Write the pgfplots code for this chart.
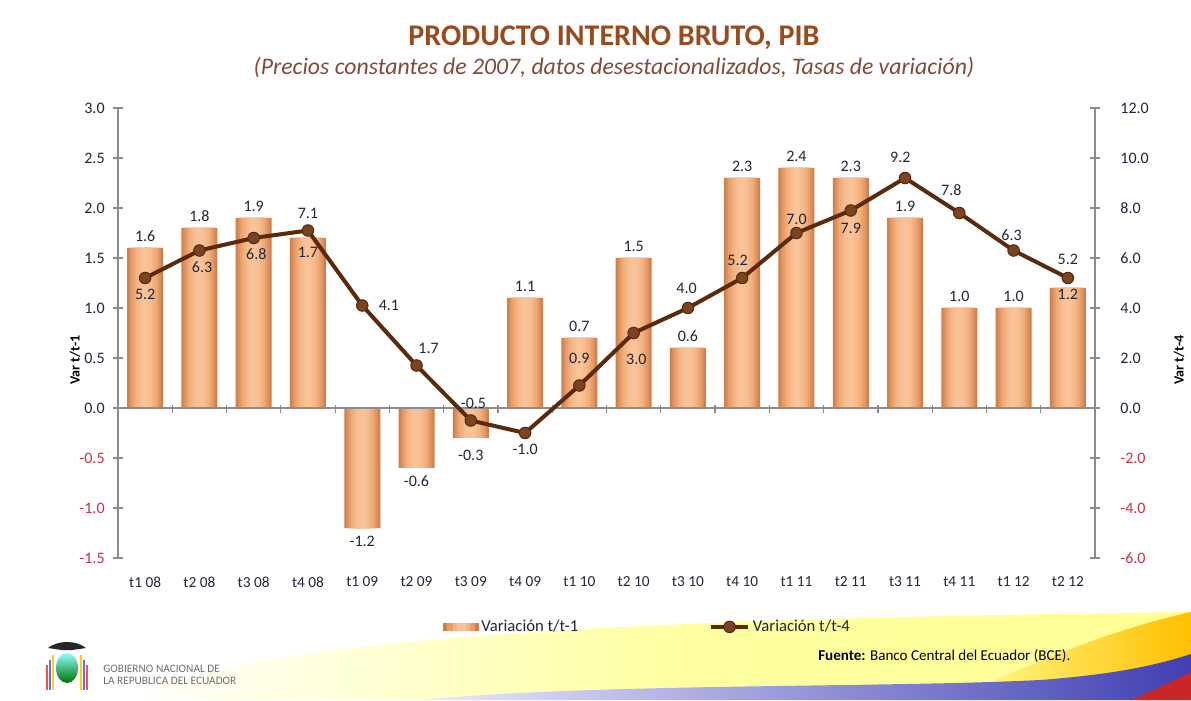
\documentclass[border=0pt]{standalone}
\usepackage{pgfplots}
\pgfplotsset{compat=1.18}
\usepackage{pgfplotstable}
\usepackage{fontspec}
\setmainfont{Carlito}
\definecolor{titlec}{HTML}{9A4A1C}
\definecolor{subc}{HTML}{85493A}
\definecolor{axisgray}{HTML}{8C8C8C}
\definecolor{negred}{HTML}{C8324B}
\definecolor{labc}{HTML}{22263A}
\definecolor{linec}{HTML}{5A2A0A}
\definecolor{markc}{HTML}{7B4420}
\definecolor{govgray}{HTML}{6E6E6E}
\definecolor{bA}{HTML}{D17F4B}
\definecolor{bB}{HTML}{DD8F5B}
\definecolor{bC}{HTML}{E79D69}
\definecolor{bD}{HTML}{EEAA77}
\definecolor{bE}{HTML}{F3B483}
\definecolor{bF}{HTML}{F7BD8F}
\definecolor{bG}{HTML}{F9C39A}

\pgfplotstableread{
x y dx dy
0 1.6 0 9
1 1.8 0 9
2 1.9 0 9
3 1.7 0 -10.5
4 -1.2 0 -10
5 -0.6 0 -10
6 -0.3 0 -13
7 1.1 0 9
8 0.7 0 9
9 1.5 0 9
10 0.6 0 9
11 2.3 0 9
12 2.4 0 9
13 2.3 0 9
14 1.9 0 9
15 1.0 0 9
16 1.0 0 9
17 1.2 0 -5
}\bardata

\pgfplotstableread{
x y dx dy
0 5.2 0 -12
1 6.3 2 -12.5
2 6.8 2 -12
3 7.1 0 13
4 4.1 20 0
5 1.7 9 12.5
6 -0.5 2 13
7 -1.0 0 -12
8 0.9 0 20
9 3.0 2 -19.5
10 4.0 -1 15
11 5.2 -3.5 13.5
12 7.0 0 10.5
13 7.9 0 -13.5
14 9.2 -3.5 15.5
15 7.8 -6 17
16 6.3 -1.5 11.5
17 5.2 0 14
}\linedata

\pgfplotsset{
  common/.style={
    at={(88.5pt,106.5pt)}, anchor=south west,
    scale only axis, width=732.75pt, height=337.5pt,
    xmin=-0.5, xmax=17.5,
    axis line style={axisgray, line width=0.9pt},
    ytick style={draw=axisgray, line width=0.9pt},
    tick align=center, major tick length=7pt,
    /pgf/number format/.cd, fixed, fixed zerofill, precision=1, assume math mode=true,
  },
  layer/.style 2 args={ybar, bar shift=0pt, bar width=#1, draw=none, fill=#2, forget plot},
  barleg/.style={legend image code/.code={
     \fill[bA] (0pt,-2.8pt) rectangle (26pt,2.8pt);
     \fill[bC] (3pt,-2.8pt) rectangle (23pt,2.8pt);
     \fill[bE] (7pt,-2.8pt) rectangle (19pt,2.8pt);
     \fill[bG] (10pt,-2.8pt) rectangle (16pt,2.8pt);}},
  lineleg/.style={legend image code/.code={\draw[mark repeat=2, mark phase=2, ##1] plot coordinates {(0pt,0pt) (14pt,0pt) (28pt,0pt)};}},
}

\begin{document}
\begin{tikzpicture}
\path[use as bounding box] (0pt,0pt) rectangle (893.25pt,525pt);
\fill[white] (0pt,0pt) rectangle (893.25pt,525pt);
% decorative footer band (flag colours)
\begin{scope}[x=0.75pt, y=-0.75pt, shift={(0pt,525pt)}]
  \clip (0,0) rectangle (1191,700);
  \shade[left color=white, right color=yellow!42!white, middle color=yellow!36!white]
    (120,700) .. controls (260,640) and (560,620) .. (1191,612) -- (1191,700) -- cycle;
  \shade[left color=yellow!40!white, right color=orange!50!yellow]
    (950,700) .. controls (1040,660) and (1110,630) .. (1191,612) -- (1191,700) -- cycle;
  \shade[left color=blue!8!white, right color=blue!60!black!75!white]
    (420,700) .. controls (600,683) and (880,688) .. (1040,680)
    .. controls (1120,674) and (1160,664) .. (1191,654) -- (1191,700) -- cycle;
  \fill[red!75!black!85!white]
    (1130,700) .. controls (1155,690) and (1175,680) .. (1191,672) -- (1191,700) -- cycle;
  % simple emblem
  \fill[black!85] (48,648) .. controls (58,640) and (76,640) .. (86,648) -- (72,650) -- (62,650) -- cycle;
  \shade[top color=cyan!45!white, bottom color=green!45!black] (67,668) ellipse (11 and 15);
  \draw[yellow!70!orange, line width=2pt] (53,655) -- (53,690);
  \draw[blue!60, line width=2pt] (50,660) -- (50,690);
  \draw[red!70, line width=2pt] (47,665) -- (47,690);
  \draw[yellow!70!orange, line width=2pt] (81,655) -- (81,690);
  \draw[blue!60, line width=2pt] (84,660) -- (84,690);
  \draw[red!70, line width=2pt] (87,665) -- (87,690);
  \node[anchor=west, inner sep=0pt, text=govgray, font=\fontsize{8.5}{9}\selectfont] at (103,669) {GOBIERNO NACIONAL DE};
  \node[anchor=west, inner sep=0pt, text=govgray, font=\fontsize{8.5}{9}\selectfont] at (103,681) {LA REPUBLICA DEL ECUADOR};
  \node[anchor=west, inner sep=0pt, text=black, font=\fontsize{11.3}{13}\selectfont] at (818,656) {\textbf{Fuente:} Banco Central del Ecuador (BCE).};
  % titles
  \node[inner sep=0pt, text=titlec, font=\fontsize{22.5}{26}\bfseries\selectfont] at (614,38) {PRODUCTO INTERNO BRUTO, PIB};
  \node[inner sep=0pt, text=subc, font=\fontsize{17.8}{20}\itshape\selectfont] at (614,67) {(Precios constantes de 2007, datos desestacionalizados, Tasas de variación)};
\end{scope}

% ---------- bars, left axis ----------
\begin{axis}[common,
  ymin=-1.5, ymax=3.0,
  axis y line*=left, axis x line*=bottom,
  x axis line style={draw=none}, xtick style={draw=none},
  xtick={0,...,17},
  xticklabels={t1 08,t2 08,t3 08,t4 08,t1 09,t2 09,t3 09,t4 09,t1 10,t2 10,t3 10,t4 10,t1 11,t2 11,t3 11,t4 11,t1 12,t2 12},
  xticklabel style={font=\fontsize{11.5}{13}\selectfont, text=labc, yshift=-7pt},
  ytick={0,0.5,1,1.5,2,2.5,3},
  extra y ticks={-1.5,-1,-0.5},
  extra y tick style={yticklabel style={text=negred}},
  yticklabel style={font=\fontsize{12}{14}\selectfont, text=labc, xshift=-3pt},
  ylabel={\textbf{Var t/t-1}},
  ylabel style={at={(axis description cs:-0.044,0.44)}, anchor=center, font=\fontsize{10.5}{12}\selectfont, text=black},
]
\addplot[layer={27pt}{bA}] table[x=x, y=y] {\bardata};
\addplot[layer={24pt}{bB}] table[x=x, y=y] {\bardata};
\addplot[layer={21pt}{bC}] table[x=x, y=y] {\bardata};
\addplot[layer={17.5pt}{bD}] table[x=x, y=y] {\bardata};
\addplot[layer={14pt}{bE}] table[x=x, y=y] {\bardata};
\addplot[layer={10pt}{bF}] table[x=x, y=y] {\bardata};
\addplot[layer={5pt}{bG},
  visualization depends on={\thisrow{dx} \as \dx},
  visualization depends on={\thisrow{dy} \as \dy},
  nodes near coords={\pgfmathprintnumber[fixed,fixed zerofill,precision=1,assume math mode=true]{\pgfplotspointmeta}},
  every node near coord/.style={anchor=center, xshift=\dx pt, yshift=\dy pt, font=\fontsize{12}{14}\selectfont, text=labc},
] table[x=x, y=y] {\bardata};
\draw[axisgray, line width=0.9pt] (axis cs:-0.5,0) -- (axis cs:17.5,0);
\pgfplotsinvokeforeach{0.5,1.5,2.5,3.5,4.5,5.5,6.5,7.5,8.5,9.5,10.5,11.5,12.5,13.5,14.5,15.5,16.5}{
  \draw[axisgray, line width=0.9pt] ([yshift=2pt]axis cs:#1,0) -- ([yshift=-4pt]axis cs:#1,0);
}
\end{axis}

% ---------- line, right axis ----------
\begin{axis}[common,
  ymin=-6, ymax=12,
  axis y line*=right, axis x line=none,
  ytick={0,2,4,6,8,10,12},
  extra y ticks={-6,-4,-2},
  extra y tick style={yticklabel style={text=negred}},
  yticklabel style={font=\fontsize{12}{14}\selectfont, text=labc, xshift=12pt},
  ylabel={\textbf{Var t/t-4}},
  ylabel style={at={(axis description cs:1.086,0.44)}, anchor=center, rotate=0, font=\fontsize{10.5}{12}\selectfont, text=black},
  legend columns=2,
  legend style={at={(0.5425,-0.153)}, anchor=center, draw=none, fill=none,
    font=\fontsize{12.5}{14}\selectfont, text=labc,
    /tikz/every even column/.append style={column sep=96pt}},
]
\addlegendimage{barleg}
\addlegendentry{Variación t/t-1}
\addplot[linec, line width=3pt, mark=*, mark size=4.3pt,
  mark options={fill=markc, draw=linec, line width=0.8pt},
  visualization depends on={\thisrow{dx} \as \dx},
  visualization depends on={\thisrow{dy} \as \dy},
  nodes near coords={\pgfmathprintnumber[fixed,fixed zerofill,precision=1,assume math mode=true]{\pgfplotspointmeta}},
  every node near coord/.style={anchor=center, xshift=\dx pt, yshift=\dy pt, font=\fontsize{12}{14}\selectfont, text=labc},
  lineleg,
] table[x=x, y=y] {\linedata};
\addlegendentry{Variación t/t-4}
\end{axis}
\end{tikzpicture}
\end{document}
